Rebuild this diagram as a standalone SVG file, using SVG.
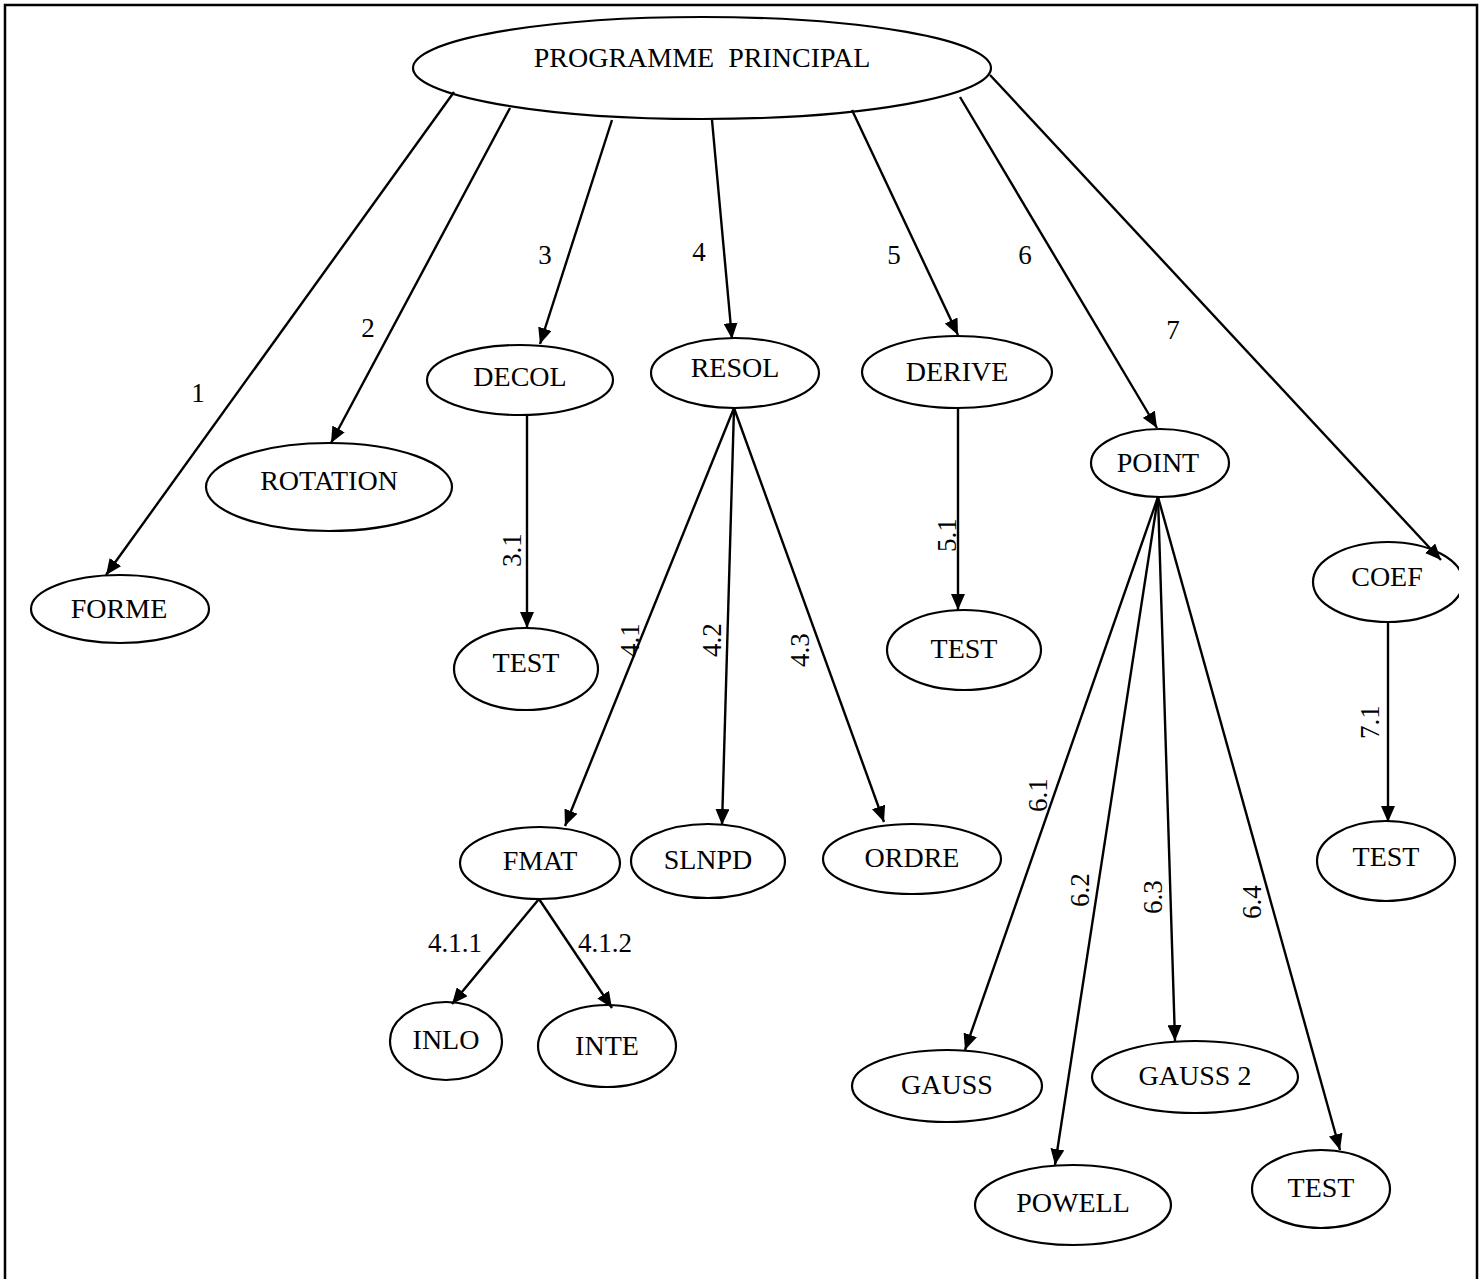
<svg xmlns="http://www.w3.org/2000/svg" width="1484" height="1279" viewBox="0 0 1484 1279">
  <style>
    .node ellipse { fill: #ffffff; stroke: #000000; stroke-width: 2.2; }
    .node text { font-family: "Liberation Serif", "Times New Roman", serif; font-size: 28px; fill: #000000; text-anchor: middle; white-space: pre; }
    .lbl { font-family: "Liberation Serif", "Times New Roman", serif; font-size: 27px; fill: #000000; text-anchor: middle; dominant-baseline: central; }
    .edge { stroke: #000000; stroke-width: 2.4; fill: none; marker-end: url(#head); }
  </style>
  <defs>
    <marker id="head" markerUnits="userSpaceOnUse" markerWidth="16" markerHeight="14" refX="16" refY="7" orient="auto">
      <path d="M0,0 L16,7 L0,14 Z" fill="#000000"/>
    </marker>
    <clipPath id="coefClip">
      <rect x="1300" y="530" width="159" height="110"/>
    </clipPath>
  </defs>

  <rect width="1484" height="1279" fill="#ffffff"/>
  <!-- frame (open at the bottom) -->
  <rect x="5" y="5" width="1472" height="1310" fill="none" stroke="#000000" stroke-width="2.5"/>

  <!-- nodes -->
  <g id="n-main" class="node"><ellipse cx="702" cy="68" rx="289" ry="51"/><text x="702" y="67" xml:space="preserve">PROGRAMME  PRINCIPAL</text></g>
  <g id="n-forme" class="node"><ellipse cx="120" cy="609" rx="89" ry="34"/><text x="119" y="618">FORME</text></g>
  <g id="n-rotation" class="node"><ellipse cx="329" cy="487" rx="123" ry="44"/><text x="329" y="490">ROTATION</text></g>
  <g id="n-decol" class="node"><ellipse cx="520" cy="380" rx="93" ry="35"/><text x="520" y="386">DECOL</text></g>
  <g id="n-resol" class="node"><ellipse cx="735" cy="373" rx="84" ry="35"/><text x="735" y="377">RESOL</text></g>
  <g id="n-derive" class="node"><ellipse cx="957" cy="372" rx="95" ry="36"/><text x="957" y="381">DERIVE</text></g>
  <g id="n-point" class="node"><ellipse cx="1160" cy="463" rx="69" ry="34"/><text x="1158" y="472">POINT</text></g>
  <g id="n-coef" class="node"><ellipse cx="1388" cy="582" rx="75" ry="40" clip-path="url(#coefClip)"/><text x="1387" y="586">COEF</text></g>
  <g id="n-test1" class="node"><ellipse cx="526" cy="669" rx="72" ry="41"/><text x="526" y="672">TEST</text></g>
  <g id="n-test2" class="node"><ellipse cx="964" cy="650" rx="77" ry="40"/><text x="964" y="658">TEST</text></g>
  <g id="n-test3" class="node"><ellipse cx="1386" cy="861" rx="69" ry="40"/><text x="1386" y="866">TEST</text></g>
  <g id="n-fmat" class="node"><ellipse cx="540" cy="863" rx="80" ry="36"/><text x="540" y="870">FMAT</text></g>
  <g id="n-slnpd" class="node"><ellipse cx="708" cy="861" rx="77" ry="37"/><text x="708" y="869">SLNPD</text></g>
  <g id="n-ordre" class="node"><ellipse cx="912" cy="859" rx="89" ry="35"/><text x="912" y="867">ORDRE</text></g>
  <g id="n-inlo" class="node"><ellipse cx="446" cy="1041" rx="56" ry="39"/><text x="446" y="1049">INLO</text></g>
  <g id="n-inte" class="node"><ellipse cx="607" cy="1046" rx="69" ry="41"/><text x="607" y="1055">INTE</text></g>
  <g id="n-gauss" class="node"><ellipse cx="947" cy="1086" rx="95" ry="36"/><text x="947" y="1094">GAUSS</text></g>
  <g id="n-gauss2" class="node"><ellipse cx="1195" cy="1077" rx="103" ry="36"/><text x="1195" y="1085">GAUSS 2</text></g>
  <g id="n-powell" class="node"><ellipse cx="1073" cy="1205" rx="98" ry="40"/><text x="1073" y="1212">POWELL</text></g>
  <g id="n-test4" class="node"><ellipse cx="1321" cy="1189" rx="69" ry="39"/><text x="1321" y="1197">TEST</text></g>

  <!-- connectors -->
  <g id="connectors">
    <line class="edge" x1="454" y1="92" x2="106" y2="575"/>
    <line class="edge" x1="510" y1="108" x2="331" y2="443"/>
    <line class="edge" x1="612" y1="120" x2="540" y2="344"/>
    <line class="edge" x1="712" y1="120" x2="732" y2="339"/>
    <line class="edge" x1="852" y1="110" x2="958" y2="335"/>
    <line class="edge" x1="960" y1="97" x2="1157" y2="428"/>
    <line class="edge" x1="990" y1="75" x2="1441" y2="560"/>

    <line class="edge" x1="527" y1="415" x2="527" y2="628"/>
    <line class="edge" x1="958" y1="408" x2="958" y2="610"/>
    <line class="edge" x1="1388" y1="622" x2="1388" y2="822"/>

    <line class="edge" x1="734" y1="408" x2="565" y2="826"/>
    <line class="edge" x1="734" y1="408" x2="722" y2="825"/>
    <line class="edge" x1="734" y1="408" x2="884" y2="822"/>

    <line class="edge" x1="539" y1="899" x2="452" y2="1004"/>
    <line class="edge" x1="539" y1="899" x2="612" y2="1008"/>

    <line class="edge" x1="1158" y1="497" x2="965" y2="1050"/>
    <line class="edge" x1="1158" y1="497" x2="1055" y2="1165"/>
    <line class="edge" x1="1158" y1="497" x2="1175" y2="1041"/>
    <line class="edge" x1="1158" y1="497" x2="1340" y2="1150"/>
  </g>

  <!-- connector labels -->
  <g id="labels">
    <text class="lbl" x="198" y="393">1</text>
    <text class="lbl" x="368" y="328">2</text>
    <text class="lbl" x="545" y="255">3</text>
    <text class="lbl" x="699" y="252">4</text>
    <text class="lbl" x="894" y="255">5</text>
    <text class="lbl" x="1025" y="255">6</text>
    <text class="lbl" x="1173" y="330">7</text>
    <text class="lbl" x="455" y="943">4.1.1</text>
    <text class="lbl" x="605" y="943">4.1.2</text>
    <text class="lbl" transform="translate(512,550) rotate(-90)">3.1</text>
    <text class="lbl" transform="translate(630,640) rotate(-90)">4.1</text>
    <text class="lbl" transform="translate(712,640) rotate(-90)">4.2</text>
    <text class="lbl" transform="translate(800,650) rotate(-90)">4.3</text>
    <text class="lbl" transform="translate(947,535) rotate(-90)">5.1</text>
    <text class="lbl" transform="translate(1038,795) rotate(-90)">6.1</text>
    <text class="lbl" transform="translate(1080,890) rotate(-90)">6.2</text>
    <text class="lbl" transform="translate(1153,897) rotate(-90)">6.3</text>
    <text class="lbl" transform="translate(1252,902) rotate(-90)">6.4</text>
    <text class="lbl" transform="translate(1370,722) rotate(-90)">7.1</text>
  </g>
</svg>
